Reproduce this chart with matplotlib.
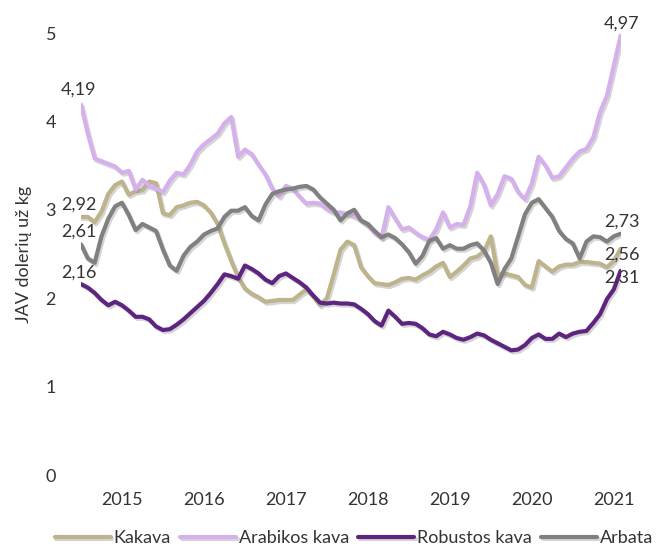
import numpy as np
import matplotlib.pyplot as plt
import matplotlib.patheffects as pe

plt.rcParams['font.family'] = ['Lato', 'DejaVu Sans']

# monthly prices, USD per kg
kakava = [2.92, 2.92, 2.86, 2.98, 3.18, 3.28, 3.32, 3.17, 3.21, 3.22,
          3.32, 3.30, 2.96, 2.94, 3.03, 3.05, 3.08, 3.09, 3.05, 2.97,
          2.84, 2.62, 2.42, 2.24, 2.11, 2.05, 2.01, 1.96, 1.97, 1.98,
          1.98, 1.98, 2.04, 2.10, 2.02, 1.92, 2.00, 2.27, 2.55, 2.64,
          2.60, 2.35, 2.25, 2.17, 2.16, 2.15, 2.18, 2.22, 2.23, 2.21,
          2.26, 2.30, 2.36, 2.40, 2.24, 2.30, 2.37, 2.45, 2.47, 2.53,
          2.70, 2.26, 2.28, 2.26, 2.24, 2.15, 2.12, 2.42, 2.36, 2.30,
          2.36, 2.38, 2.38, 2.41, 2.41, 2.40, 2.39, 2.35, 2.42, 2.56]

arabika = [4.19, 3.86, 3.58, 3.55, 3.52, 3.49, 3.42, 3.44, 3.23, 3.34,
           3.27, 3.24, 3.20, 3.33, 3.42, 3.40, 3.51, 3.66, 3.74, 3.80,
           3.86, 3.98, 4.05, 3.60, 3.68, 3.63, 3.51, 3.40, 3.24, 3.15,
           3.27, 3.24, 3.15, 3.07, 3.08, 3.07, 3.01, 2.97, 2.97, 2.95,
           2.93, 2.88, 2.82, 2.74, 2.68, 3.03, 2.90, 2.78, 2.80, 2.74,
           2.69, 2.66, 2.78, 2.97, 2.80, 2.84, 2.83, 3.04, 3.42, 3.28,
           3.05, 3.18, 3.38, 3.35, 3.20, 3.12, 3.30, 3.60, 3.50, 3.36,
           3.38, 3.48, 3.58, 3.66, 3.69, 3.82, 4.11, 4.29, 4.63, 4.97]

robusta = [2.16, 2.12, 2.06, 1.98, 1.92, 1.96, 1.92, 1.86, 1.79, 1.79,
           1.76, 1.68, 1.64, 1.65, 1.70, 1.76, 1.83, 1.90, 1.97, 2.06,
           2.16, 2.27, 2.25, 2.22, 2.37, 2.33, 2.28, 2.21, 2.17, 2.25,
           2.28, 2.23, 2.18, 2.12, 2.03, 1.95, 1.94, 1.95, 1.94, 1.94,
           1.93, 1.88, 1.82, 1.74, 1.69, 1.86, 1.79, 1.71, 1.72, 1.71,
           1.66, 1.59, 1.57, 1.62, 1.59, 1.55, 1.53, 1.56, 1.60, 1.58,
           1.53, 1.49, 1.45, 1.41, 1.42, 1.47, 1.55, 1.59, 1.54, 1.54,
           1.60, 1.56, 1.60, 1.62, 1.63, 1.72, 1.82, 1.99, 2.10, 2.31]

arbata = [2.61, 2.45, 2.40, 2.70, 2.90, 3.04, 3.08, 2.94, 2.77, 2.84,
          2.80, 2.76, 2.55, 2.37, 2.31, 2.48, 2.58, 2.64, 2.72, 2.76,
          2.79, 2.92, 2.99, 2.99, 3.03, 2.93, 2.88, 3.06, 3.18, 3.21,
          3.23, 3.24, 3.26, 3.27, 3.23, 3.14, 3.07, 3.00, 2.88, 2.96,
          3.00, 2.88, 2.84, 2.76, 2.69, 2.72, 2.68, 2.61, 2.52, 2.39,
          2.48, 2.65, 2.68, 2.56, 2.60, 2.56, 2.56, 2.60, 2.62, 2.54,
          2.40, 2.16, 2.33, 2.45, 2.70, 2.95, 3.08, 3.12, 3.02, 2.92,
          2.76, 2.67, 2.62, 2.45, 2.64, 2.70, 2.69, 2.64, 2.70, 2.73]

years = ['2015', '2016', '2017', '2018', '2019', '2020', '2021']
year_idx = [6, 18, 30, 42, 54, 66, 78]

names = ['Kakava', 'Arabikos kava', 'Robustos kava', 'Arbata']
colors = ['#BDB38C', '#D6B0EC', '#5E2580', '#808080']
txt = '#333333'
fs = 13

x = np.arange(len(kakava))

fig = plt.figure(figsize=(6.7, 5.51), dpi=100)
ax = fig.add_axes([0.1209, 0.1379, 0.8054, 0.8022])

shadow = [pe.SimpleLineShadow(offset=(1.2, -1.5), shadow_color='#888888', alpha=0.35),
          pe.Normal()]

for vals, name, c in zip([kakava, arabika, robusta, arbata], names, colors):
    ax.plot(x, vals, color=c, lw=3, label=name, path_effects=shadow,
            solid_joinstyle='round', solid_capstyle='round')

# first / last value labels (offsets in points)
start_off = {'Kakava': (-1.5, 8.5), 'Arabikos kava': (-1.5, 11),
             'Robustos kava': (-1.5, 8), 'Arbata': (-1.5, 9)}
end_off = {'Kakava': (1, -4.5), 'Arabikos kava': (1, 8.5),
           'Robustos kava': (1, -5), 'Arbata': (1, 9)}
for vals, name in zip([kakava, arabika, robusta, arbata], names):
    for i, off in [(0, start_off[name]), (len(vals) - 1, end_off[name])]:
        ax.annotate(f'{vals[i]:.2f}'.replace('.', ','), (x[i], vals[i]),
                    xytext=off, textcoords='offset points',
                    ha='center', va='center', fontsize=fs, color=txt,
                    annotation_clip=False)

ax.set_xlim(0, len(kakava) - 1)
ax.set_ylim(0, 5)
ax.set_yticks(range(6))
ax.set_xticks(year_idx, years)
ax.tick_params(axis='both', length=0, labelsize=fs, labelcolor=txt)
ax.tick_params(axis='y', pad=18)
ax.tick_params(axis='x', pad=12)
for s in ax.spines.values():
    s.set_visible(False)

ax.text(-0.106, 0.5, 'JAV dolerių už kg', transform=ax.transAxes,
        rotation=90, ha='center', va='center', fontsize=fs, color=txt)

fig.legend(loc='center', bbox_to_anchor=(354 / 670, 1 - 538 / 551), ncol=4,
           frameon=False, handlelength=3.1, handletextpad=0.17, columnspacing=0.5,
           fontsize=fs, labelcolor=txt)

fig.savefig('out.png', dpi=100)
